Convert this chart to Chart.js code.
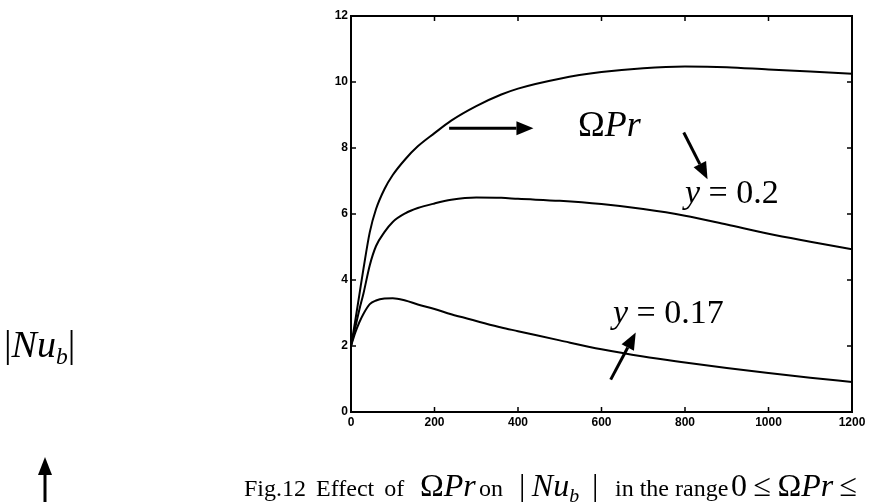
<!DOCTYPE html>
<html>
<head>
<meta charset="utf-8">
<script src="https://cdn.jsdelivr.net/npm/chart.js@4.4.1/dist/chart.umd.min.js"></script>
<style>
  html, body { margin: 0; padding: 0; background: #fff; }
  #wrap { position: relative; width: 870px; height: 502px; overflow: hidden; }
  #wrap canvas { position: absolute; left: 0; top: 0; }
  .eq { position: absolute; font-family: "Liberation Serif", "Times New Roman", serif; color: #000; line-height: 1; white-space: nowrap; }
  .eq i { font-style: italic; }
  .eq sub { font-size: 62%; vertical-align: -0.3em; font-style: italic; }
</style>
</head>
<body>
<div id="wrap">
  <canvas id="nuChart" width="870" height="502"></canvas>

  <div class="eq" style="left:578px; top:106px; font-size:36px;">&Omega;<i>Pr</i></div>
  <div class="eq" style="left:685px; top:175px; font-size:34px;"><i>y</i> = 0.2</div>
  <div class="eq" style="left:613px; top:295px; font-size:34px;"><i>y</i> = 0.17</div>
  <div class="eq" style="left:4px; top:325px; font-size:38px;">|<i>Nu</i><sub>b</sub>|</div>

  <div class="eq" style="left:244px; top:476px; font-size:24px; word-spacing:4px;">Fig.12 Effect of</div>
  <div class="eq" style="left:420px; top:469px; font-size:32px;">&Omega;<i>Pr</i></div>
  <div class="eq" style="left:479px; top:476px; font-size:24px;">on</div>
  <div class="eq" style="left:519px; top:469px; font-size:32px;">|&thinsp;<i>Nu</i><sub>b</sub>&thinsp;&thinsp;|</div>
  <div class="eq" style="left:615px; top:476px; font-size:24px;">in the range</div>
  <div class="eq" style="left:731px; top:469px; font-size:32px;">0&thinsp;&le;&thinsp;&Omega;<i>Pr</i>&thinsp;&le;</div>
</div>

<script>
const omegaPr = [0, 10, 20, 30, 45, 60, 80, 100, 130, 160, 200, 240, 300, 360, 400, 500, 600, 700, 800, 900, 1000, 1100, 1200];

// |Nu_b| for the three curves
const nuTop  = [2, 2.75, 3.55, 4.35, 5.45, 6.15, 6.75, 7.18, 7.66, 8.05, 8.45, 8.83, 9.27, 9.62, 9.8, 10.1, 10.3, 10.42, 10.47, 10.45, 10.38, 10.32, 10.25];
const nuY020 = [2, 2.55, 3.1, 3.6, 4.45, 5.03, 5.45, 5.76, 6.02, 6.18, 6.32, 6.43, 6.5, 6.49, 6.46, 6.4, 6.3, 6.15, 5.95, 5.68, 5.4, 5.16, 4.93];
const nuY017 = [2, 2.4, 2.72, 2.98, 3.27, 3.38, 3.44, 3.45, 3.38, 3.26, 3.12, 2.96, 2.76, 2.56, 2.45, 2.17, 1.9, 1.68, 1.5, 1.33, 1.18, 1.04, 0.91];

const xTicks = [0, 200, 400, 600, 800, 1000, 1200];
const yTicks = [0, 2, 4, 6, 8, 10, 12];

// annotation arrows inside the plot, in data units: [x1, y1, x2, y2]
const plotArrows = [
    [235, 8.6, 437, 8.6],
    [797, 8.47, 854, 7.05],
    [622, 0.98, 682, 2.41]
];

function toPoints(ys) {
    return omegaPr.map((x, i) => ({ x: x, y: ys[i] }));
}

function drawArrow(ctx, x1, y1, x2, y2, headLen, headW) {
    const ang = Math.atan2(y2 - y1, x2 - x1);
    const bx = x2 - headLen * Math.cos(ang);
    const by = y2 - headLen * Math.sin(ang);
    ctx.lineWidth = 3;
    ctx.beginPath();
    ctx.moveTo(x1, y1);
    ctx.lineTo(bx, by);
    ctx.stroke();
    ctx.beginPath();
    ctx.moveTo(x2, y2);
    ctx.lineTo(bx + headW / 2 * Math.sin(ang), by - headW / 2 * Math.cos(ang));
    ctx.lineTo(bx - headW / 2 * Math.sin(ang), by + headW / 2 * Math.cos(ang));
    ctx.closePath();
    ctx.fill();
}

const framePlugin = {
    id: 'frame',
    afterDraw(chart) {
        const ctx = chart.ctx;
        const a = chart.chartArea;
        const xs = chart.scales.x, ys = chart.scales.y;
        ctx.save();
        ctx.strokeStyle = '#000';
        ctx.fillStyle = '#000';
        ctx.lineWidth = 2;
        ctx.strokeRect(a.left, a.top, a.right - a.left, a.bottom - a.top);

        // inward ticks on all four sides
        ctx.lineWidth = 1.5;
        ctx.beginPath();
        xTicks.forEach(v => {
            const px = xs.getPixelForValue(v);
            ctx.moveTo(px, a.bottom); ctx.lineTo(px, a.bottom - 5);
            ctx.moveTo(px, a.top); ctx.lineTo(px, a.top + 5);
        });
        yTicks.forEach(v => {
            const py = ys.getPixelForValue(v);
            ctx.moveTo(a.left, py); ctx.lineTo(a.left + 5, py);
            ctx.moveTo(a.right, py); ctx.lineTo(a.right - 5, py);
        });
        ctx.stroke();

        plotArrows.forEach(r => {
            drawArrow(ctx, xs.getPixelForValue(r[0]), ys.getPixelForValue(r[1]),
                      xs.getPixelForValue(r[2]), ys.getPixelForValue(r[3]), 17, 14);
        });

        // arrow under the |Nu_b| label
        drawArrow(ctx, 45, chart.height, 45, 457, 18, 14);
        ctx.restore();
    }
};

function lineSet(label, ys) {
    return {
        label: label,
        data: toPoints(ys),
        borderColor: '#000',
        borderWidth: 2,
        pointRadius: 0,
        fill: false,
        cubicInterpolationMode: 'monotone'
    };
}

const tickFont = { family: '"Liberation Sans", Arial, sans-serif', size: 12, weight: 'bold' };

new Chart(document.getElementById('nuChart').getContext('2d'), {
    type: 'line',
    data: {
        datasets: [
            lineSet('top', nuTop),
            lineSet('y = 0.2', nuY020),
            lineSet('y = 0.17', nuY017)
        ]
    },
    options: {
        responsive: false,
        animation: false,
        layout: { padding: { left: 311, right: 18, top: 16, bottom: 0 } },
        plugins: { legend: { display: false }, tooltip: { enabled: false } },
        scales: {
            x: {
                type: 'linear',
                min: 0, max: 1200,
                afterBuildTicks: s => { s.ticks = xTicks.map(v => ({ value: v })); },
                ticks: { font: tickFont, color: '#000', padding: 3, maxRotation: 0, callback: v => String(v) },
                grid: { display: false, drawTicks: false },
                border: { display: false },
                afterFit: s => { s.height = 90; }
            },
            y: {
                min: 0, max: 12,
                afterBuildTicks: s => { s.ticks = yTicks.map(v => ({ value: v })); },
                ticks: { font: tickFont, color: '#000', padding: 3, callback: v => String(v) },
                grid: { display: false, drawTicks: false },
                border: { display: false },
                afterFit: s => { s.width = 40; }
            }
        }
    },
    plugins: [framePlugin]
});
</script>
</body>
</html>
